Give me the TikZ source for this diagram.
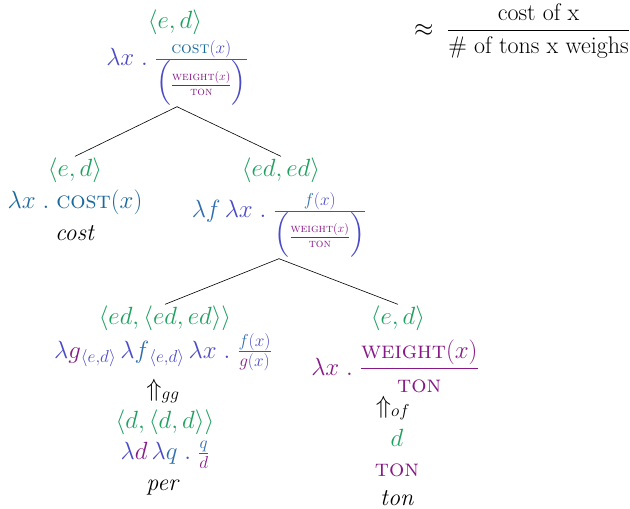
\documentclass[tikz,border=0pt]{standalone}
\usepackage{amsmath}
\definecolor{typegreen}{RGB}{30,160,95}
\definecolor{lamblue}{RGB}{75,75,200}
\definecolor{costblue}{RGB}{25,105,155}
\definecolor{wpurple}{RGB}{135,25,135}
\definecolor{fblue}{RGB}{45,110,175}
\newcommand{\SC}[1]{\text{\textsc{#1}}}
\begin{document}
\begin{tikzpicture}[x=1pt,y=-1pt,
  every node/.style={inner sep=1pt,font=\fontsize{24}{28}\selectfont},
  typ/.style={text=typegreen},
  lam/.style={text=lamblue},
  word/.style={text=black},
  branch/.style={draw=black,line width=0.6pt}]
\useasboundingbox (0,0) rectangle (630,509);

% root
\node[typ] (t0) at (175,22) {$\langle e,d\rangle$};
\node[lam] (f0) at (177,73) {$\color{lamblue}\lambda x\;.\;\frac{{\color{costblue}\SC{cost}}(x)}{\Bigl({\color{wpurple}\frac{\SC{weight}(x)}{\SC{ton}}}\Bigr)}$};

% right approximation
\node (approx) at (522,31) {$\approx\;\dfrac{\text{cost of x}}{\text{\# of tons x weighs}}$};

% left child
\node[typ] (t1) at (75,170) {$\langle e,d\rangle$};
\node (f1) at (75,202) {$\color{costblue}\lambda x\;.\;\SC{cost}(x)$};
\node[word] (w1) at (75,233) {\textit{cost}};

% right child
\node[typ] (t2) at (281,170) {$\langle ed,ed\rangle$};
\node (f2) at (279,225) {$\color{lamblue}{\color{fblue}\lambda f}\,\lambda x\;.\;\frac{{\color{fblue}f}(x)}{\Bigl({\color{wpurple}\frac{\SC{weight}(x)}{\SC{ton}}}\Bigr)}$};

% bottom left
\node[typ] (t3) at (165,318) {$\langle ed,\langle ed,ed\rangle\rangle$};
\node (f3) at (163,352) {$\color{lamblue}\lambda{\color{wpurple}g}_{\langle e,d\rangle}\,\lambda{\color{fblue}f}_{\langle e,d\rangle}\,\lambda x\;.\;\frac{{\color{fblue}f}(x)}{{\color{wpurple}g}(x)}$};
\node[word] (u3) at (163,391) {$\Uparrow_{gg}$};
\node[typ] (t4) at (165,422) {$\langle d,\langle d,d\rangle\rangle$};
\node (f4) at (165,455) {$\color{lamblue}\lambda{\color{wpurple}d}\,\lambda{\color{fblue}q}\;.\;\frac{{\color{fblue}q}}{{\color{wpurple}d}}$};
\node[word] (w4) at (163,488) {\textit{per}};

% bottom right
\node[typ] (t5) at (398,318) {$\langle e,d\rangle$};
\node (f5) at (395,366) {$\color{wpurple}\lambda x\;.\;\dfrac{\SC{weight}(x)}{\SC{ton}}$};
\node[word] (u5) at (393,408) {$\Uparrow_{of}$};
\node[typ] (d5) at (397,438) {$d$};
\node (ton5) at (397,470) {$\color{wpurple}\SC{ton}$};
\node[word] (w5) at (397,498) {\textit{ton}};

% branches
\draw[branch] (f0.south) -- (t1.north);
\draw[branch] (f0.south) -- (t2.north);
\draw[branch] (f2.south) -- (t3.north);
\draw[branch] (f2.south) -- (t5.north);
\end{tikzpicture}
\end{document}
